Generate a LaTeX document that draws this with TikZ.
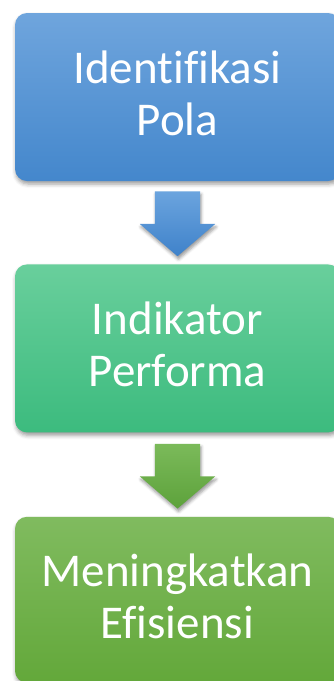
\documentclass[tikz,border=0pt]{standalone}
\usepackage{fontspec}
\setmainfont{Carlito}[Ligatures=NoCommon]
\usepackage{xcolor}
\usetikzlibrary{positioning,shapes.arrows,shadows.blur}
\definecolor{pola-top}{HTML}{6FA5DD}
\definecolor{pola-bottom}{HTML}{4487CC}
\definecolor{indikator-top}{HTML}{69CF9C}
\definecolor{indikator-bottom}{HTML}{3CBB7E}
\definecolor{efisiensi-top}{HTML}{80BB5F}
\definecolor{efisiensi-bottom}{HTML}{63A83A}
\definecolor{arrow-blue-top}{HTML}{6BA4DE}
\definecolor{arrow-blue-bottom}{HTML}{3F82CA}
\definecolor{arrow-green-top}{HTML}{7BBA5A}
\definecolor{arrow-green-bottom}{HTML}{5DA23B}
\tikzset{
    step-box/.style = {rectangle, rounded corners=12pt, minimum width=325pt, minimum height=168pt, text width=310pt, align=center, text=white, font=\fontsize{47}{52}\selectfont, text depth=60pt, inner sep=0pt, blur shadow={shadow xshift=1pt, shadow yshift=-3pt, shadow blur radius=4pt}},
    down-arrow/.style = {single arrow, shape border rotate=270, minimum height=63pt, single arrow head extend=15pt, single arrow tip angle=99, inner sep=22.5pt, blur shadow={shadow xshift=1pt, shadow yshift=-3pt, shadow blur radius=3pt}},
}

\begin{document}
\begin{tikzpicture}[x=1pt, y=1pt]
\useasboundingbox (0,0) rectangle (333,-681);
\node [step-box, top color=pola-top, bottom color=pola-bottom] (pola) at (177.5,-97) {Identifikasi\\Pola};
\node [step-box, top color=indikator-top, bottom color=indikator-bottom, below=83pt of pola] (indikator) {Indikator\\Performa};
\node [step-box, top color=efisiensi-top, bottom color=efisiensi-bottom, minimum height=166pt, below=84pt of indikator] (efisiensi) {Meningkatkan\\Efisiensi};
\node [down-arrow, top color=arrow-blue-top, bottom color=arrow-blue-bottom, below=10pt of pola, anchor=tail] (arrow-one) {};
\node [down-arrow, top color=arrow-green-top, bottom color=arrow-green-bottom, below=11pt of indikator, anchor=tail] (arrow-two) {};
\end{tikzpicture}
\end{document}
